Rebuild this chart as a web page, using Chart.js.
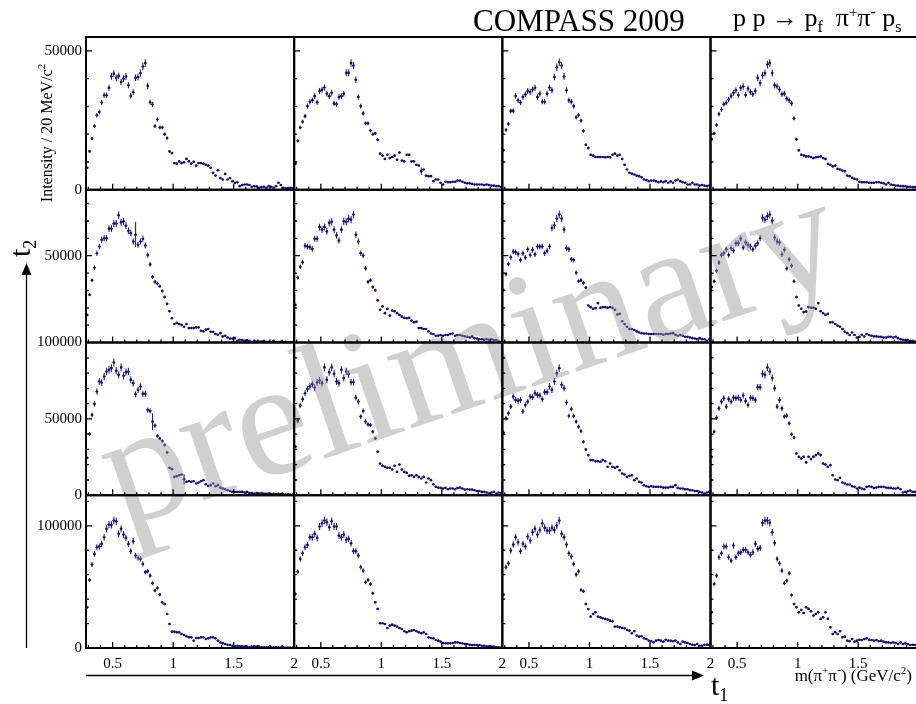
<!DOCTYPE html>
<html lang="en">
<head>
  <meta charset="UTF-8" />
  <title>COMPASS 2009 - m(pi+pi-) in t1 x t2 bins</title>
  <script src="https://cdn.jsdelivr.net/npm/chart.js"></script>
  <style>
    html, body { margin: 0; padding: 0; background: #fff; overflow: hidden; }
    #wrap { position: relative; width: 916px; height: 704px; overflow: hidden; }
    #grafico { position: absolute; left: 0; top: 0; }
  </style>
</head>
<body>
  <div id="wrap"><canvas id="grafico" width="930" height="704"></canvas></div>

<script>
  // m(pi+pi-) histogram binning (GeV/c^2)
  const binLow = 0.28
  const binWidth = 0.02

  // Intensity / 20 MeV/c^2, rows = t2 bins (top to bottom), columns = t1 bins (left to right)
  const r1c1 = [7900,13800,18400,22900,26800,28000,31400,34000,34000,36700,
    40800,41800,40300,41000,38800,40000,40800,37600,33800,35100,
    40300,40600,42000,44400,45600,37400,31500,30700,22900,25300,
    22400,22400,20000,18600,13800,13200,9600,9400,10200,9600,
    9900,11100,10200,9400,10100,8700,9600,9600,9400,9000,
    8700,7900,6100,5100,7000,4200,3700,5700,3700,4200,
    3100,2500,2700,1300,1700,1900,1900,1700,1100,1300,
    1200,700,950,1100,700,1300,1100,700,1300,2500,
    1700,700,500,600,700,500]
  const r1c2 = [9400,17600,22400,24500,26500,30100,31700,32200,33700,31500,
    35600,36000,36800,34600,33700,34900,31100,30800,33400,33700,
    34600,42100,42100,45600,44700,39600,33400,30100,27500,23900,
    23900,21300,20000,20300,18000,13000,12300,11100,12600,11400,
    11800,12300,10800,13400,10500,10200,12600,12600,10200,10200,
    9000,8700,6700,7300,5100,4900,4900,3100,3700,3700,
    2500,1900,2900,2700,2700,2900,2900,3300,3300,2900,
    2500,2300,2300,2100,1900,1900,1900,1900,1700,1900,
    1700,1500,1500,1300,1300,1000]
  const r1c3 = [14200,21500,23700,28400,28400,33800,32200,31400,33400,34300,
    35600,35200,36100,36700,33400,34600,31700,31700,34600,36800,
    35800,40600,44100,45900,44700,40800,35800,32200,31700,30100,
    26100,26900,24900,21200,16200,15000,12600,12300,11800,11800,
    11800,11800,11700,11800,11700,12600,13000,12300,12600,11100,
    9000,7300,6100,5800,5500,5100,4900,4500,3700,3500,
    3100,3300,3300,3100,2700,3000,2700,3100,2500,3000,
    2500,3300,3700,3100,2700,2500,1900,1900,2500,1900,
    1900,1500,1700,1500,1300,1500]
  const r1c4 = [18200,20300,23300,27300,28900,30800,31300,32500,33800,34900,
    35800,34100,36700,37200,34100,36400,35200,34400,35600,40300,
    38400,41200,42000,45100,45600,42000,37600,37200,36100,34400,
    34600,32800,32200,31100,25700,18200,14200,12600,12300,12000,
    12000,11800,11400,11700,11800,12000,11400,11100,9300,9000,
    8400,8700,7500,7300,6900,6700,5100,4900,4300,3900,
    3700,2900,2700,2700,2700,2500,2500,2500,2700,2700,
    2500,2300,1900,2500,1900,1700,1500,1500,1300,1300,
    1300,1100,1100,950,950,700]

  const r2c1 = [15900,27500,35900,43100,51400,55300,59200,60100,60100,65600,
    65600,68500,68500,73300,69300,69800,67300,64400,63000,58200,
    62100,56300,58200,59800,55900,50400,45000,37800,34900,34000,
    32400,29700,26200,22300,18000,14000,10700,11300,10700,10100,
    9100,10700,8300,8300,8300,8700,8700,6800,6400,7400,
    7800,6200,6200,4900,4500,5400,3500,3900,2900,2300,
    2300,2500,1000,1600,1400,1000,1400,1000,400,1000,
    400,600,600,1000,400,400,200,1000,200,200,
    400,200,400,200,200,200]
  const r2c2 = [21700,37400,43600,46200,55700,55300,54900,53900,59800,59800,
    66500,65000,66500,64000,68900,69500,65000,61700,58800,65000,
    69800,69500,71200,70800,73700,62100,58200,51400,50100,42700,
    34900,35900,32000,30100,24300,18800,20800,16900,19400,15500,
    18400,18000,16900,15900,14900,14200,14000,14200,12600,11600,
    12000,8300,8300,7800,7800,6400,5200,4900,3900,3900,
    4300,3900,4300,4300,4900,5200,3900,4300,4300,3900,
    3500,3300,2900,3500,2500,2300,1900,1900,1600,1900,
    1600,1900,1400,1400,600,400]
  const r2c3 = [30100,39400,45200,49100,52400,52000,51000,47500,51400,48900,
    53700,50400,53400,50800,55300,55300,55300,51400,52800,55300,
    66000,67500,71400,73700,71400,65000,54300,53700,47900,47500,
    40200,35300,35900,34300,31600,21300,20400,19400,19800,22700,
    20000,20400,20400,20000,20400,20000,18800,16100,16500,12200,
    10700,9100,7800,7800,7200,6400,5800,5400,5200,5200,
    4900,4900,4900,4900,4900,4900,4500,4900,4900,5200,
    5400,4500,3900,4300,3900,3300,3300,2900,2500,2300,
    1900,2500,1900,1900,1000,1900]
  const r2c4 = [32000,35300,41300,46000,50400,51400,53700,50400,54300,53000,
    57200,57200,59800,54700,57600,56300,55300,53700,55700,57200,
    60100,71800,70800,72800,73700,70200,60500,58200,57600,50800,
    53400,42700,47900,44200,35300,26200,21300,19400,17500,17800,
    20400,20000,20000,19400,22700,18000,16900,15900,16500,11600,
    11600,10700,9700,9100,7800,6200,5400,4300,5800,4300,
    2900,3300,4500,3500,4900,4300,3900,3500,3500,3300,
    3300,2900,2900,3300,3300,2900,3300,2500,1900,1600,
    1400,1400,1000,1000,600,400]

  const r3c1 = [24500,40100,52600,59800,67900,74500,73800,77700,81000,82100,
    83200,86900,81500,78800,83700,78200,80600,81000,75600,73400,
    66100,69000,71200,66400,66400,55800,55200,48200,45600,38800,
    37200,35500,32900,28000,18000,17100,12000,12500,13100,13600,
    10500,8800,9200,8800,9200,7700,8300,9200,9900,7200,
    6100,6600,7700,5900,6600,5000,4400,3900,3300,2800,
    2200,2200,2200,2200,2200,1800,2200,1500,1500,1100,
    1500,1100,1500,1100,900,1100,700,900,700,900,
    700,700,400,700,400,400]
  const r3c2 = [31800,48600,58700,62900,66800,69600,71200,72700,70500,74000,
    75100,73400,83700,75600,80600,83700,79500,74500,73400,82100,
    76700,81000,79300,74000,74000,63900,61300,51500,55200,48200,
    46400,46000,41600,37200,28500,20800,19300,18600,18000,18000,
    16900,19300,15300,20100,16900,15300,14700,12700,13100,12000,
    13100,12000,11000,12000,8300,11000,9900,7200,5500,5000,
    4800,4400,4800,3900,4400,4400,3900,4800,5000,4400,
    3700,3900,3700,3700,3300,2800,2800,2200,2200,1800,
    1100,1800,2200,1100,1800,1500]
  const r3c3 = [41000,50400,53700,58000,64600,62400,61800,62400,54800,59100,
    61300,64600,64200,66800,65700,65300,62900,67500,67500,71200,
    69000,74500,79900,83200,72300,70100,60700,51900,56500,51900,
    48200,44900,42000,35000,30000,26300,23000,23000,22300,22300,
    21900,23000,22300,18600,20800,18600,18000,18600,16400,14200,
    13600,12000,12700,13100,9900,11000,8800,8300,6600,5900,
    5500,5900,5500,5500,5500,5500,5000,5000,5000,5500,
    5500,6600,4800,4400,4400,3900,3900,3300,3300,2800,
    2800,2200,1800,1100,1800,2200]
  const r3c4 = [25200,41600,50800,56900,61300,63500,58000,62900,61300,63900,
    63500,63900,62400,65300,61800,59100,63900,63500,62400,70700,
    70700,79500,78800,83700,81000,76700,70100,58000,62400,56900,
    51500,52100,47100,39900,37700,27400,25200,24100,25200,21500,
    25200,23700,25200,26300,27400,26300,20800,20100,18600,19700,
    13100,10300,9900,11400,8300,7700,7000,7000,5900,5500,
    4400,5000,4400,3900,5500,5900,5500,4800,5000,5500,
    5500,5500,5000,4800,4800,4400,4400,4800,3900,1800,
    2200,2600,3100,2200,2200,1800]

  const r4c1 = [33300,55700,68300,77000,82400,83000,85200,90600,97500,101000,
    100700,104300,103700,93400,97500,92800,90100,85200,79200,87400,
    75600,73700,72900,68800,62000,62800,59200,53000,47000,49100,
    43700,37400,36000,27800,19700,13400,13400,12800,12800,11500,
    10600,9600,8700,8700,6000,8200,8200,8700,8700,7400,
    7900,8700,8700,7900,6000,4600,3800,3300,2700,2500,
    1900,1400,1900,1400,1400,1100,1100,500,1100,1400,
    1100,1100,500,500,500,500,500,500,500,500,
    300,500,300,300,300,300]
  const r4c2 = [44200,62500,72900,77500,82400,84400,90600,90600,93400,90100,
    99400,102100,104300,103000,98800,103700,99400,99400,92000,90600,
    92800,88500,89300,85700,79200,79200,75600,66100,63300,53800,
    55700,52400,44800,37400,31900,20200,20200,19700,16400,18300,
    19100,18300,17500,16400,15600,13700,12800,13700,14200,14700,
    13700,12800,12000,12800,11500,8700,8200,7900,6600,6000,
    5200,4100,3800,3800,3800,4100,4600,4600,4100,3800,
    3300,3300,2700,2500,2500,2500,2500,1900,1900,1400,
    1400,1100,1100,500,500,300]
  const r4c3 = [43700,66100,69300,79700,84600,90600,86500,79200,85200,83000,
    91200,87900,94700,97500,92800,96600,102100,98300,96100,96100,
    98300,96600,100200,104300,93400,90600,84600,77500,74800,68800,
    60100,62800,47500,46400,36000,31900,25700,27800,29200,25700,
    25100,24300,23800,23200,22400,21800,17500,17500,16900,16400,
    16100,14700,14200,12000,13700,10100,9300,9600,7900,7400,
    6000,5500,4600,6000,6600,6000,5200,6800,6000,6000,
    5500,6000,4600,3300,5200,4600,4100,3300,2700,2500,
    3300,1900,1900,2700,2700,2500]
  const r4c4 = [29200,52400,59200,74300,77500,83000,83000,74300,71500,83800,
    74300,77500,78400,80300,80300,78400,76200,78400,85200,81100,
    81900,102400,104300,104300,102400,94700,86000,72900,69300,63300,
    53000,55100,61200,43400,36000,33300,29200,31100,28700,33300,
    32000,30000,26500,27800,29200,23800,25100,29200,23800,16900,
    11500,12800,11500,13700,8700,9300,6000,5500,7400,5200,
    6000,6800,6600,7400,7900,6800,6600,6000,6600,5500,
    6000,5200,4600,4600,4100,4600,4100,3300,4600,3300,
    3800,3300,2500,2700,2500,1900]

  const panels = [r1c1, r1c2, r1c3, r1c4, r2c1, r2c2, r2c3, r2c4,
                  r3c1, r3c2, r3c3, r3c4, r4c1, r4c2, r4c3, r4c4]

  // statistical error, relative, and the few bins with a visibly larger bar
  const relErr = 0.03
  const bigErrors = [
    { panel: 1, bin: 52, err: 1300 },
    { panel: 4, bin: 20, err: 7200 },
    { panel: 8, bin: 27, err: 5500 },
    { panel: 8, bin: 40, err: 3400 }
  ]

  // axes
  const xMin = 0.28, xMax = 2.0
  const xLabels = [[0.5, 1, 1.5, 2], [0.5, 1, 1.5, 2], [0.5, 1, 1.5, 2], [0.5, 1, 1.5]]
  const yMax = [55000, 88000, 100000, 125000]
  const yLabels = [[0, 50000], [50000], [0, 50000, 100000], [0, 100000]]
  const yMinor = [10000, 10000, 10000, 20000]
  const yMajor = [50000, 50000, 50000, 100000]

  const cor = "#101080"
  const fonte = '"Liberation Serif", "Times New Roman", serif'

  // datasets, one per panel
  const dataSets = panels.map(function (valores, p) {
    const linha = Math.floor(p / 4), coluna = p % 4
    return {
      label: "t2 bin " + (linha + 1) + ", t1 bin " + (coluna + 1),
      xAxisID: "x" + coluna,
      yAxisID: "y" + linha,
      data: valores.map(function (v, i) {
        let e = v * relErr
        bigErrors.forEach(function (b) { if (b.panel == p && b.bin == i) e = b.err })
        return { x: binLow + binWidth * (i + 0.5), y: v, err: e }
      }),
      pointRadius: 1.3,
      pointBackgroundColor: cor,
      pointBorderWidth: 0,
      showLine: false
    }
  })

  // x scales stack left to right; left scales stack bottom to top, so rows go in reverse
  const scales = {}
  for (let c = 0; c < 4; c++) {
    scales["x" + c] = {
      type: "linear", position: "bottom", stack: "t1", stackWeight: 1,
      min: xMin, max: xMax,
      grid: { display: false, drawTicks: false }, border: { display: false },
      ticks: {
        autoSkip: false, maxRotation: 0, padding: 7, color: "#000",
        font: { family: fonte, size: 15 },
        callback: function (v) { return String(v) }
      },
      afterBuildTicks: function (s) { s.ticks = xLabels[c].map(function (v) { return { value: v } }) },
      afterFit: function (s) { s.height = 56 }
    }
  }
  for (let r = 3; r >= 0; r--) {
    scales["y" + r] = {
      type: "linear", position: "left", stack: "t2", stackWeight: 1,
      min: 0, max: yMax[r],
      grid: { display: false, drawTicks: false }, border: { display: false },
      ticks: {
        autoSkip: false, padding: 4, color: "#000",
        font: { family: fonte, size: 15 },
        callback: function (v) { return String(v) }
      },
      afterBuildTicks: function (s) { s.ticks = yLabels[r].map(function (v) { return { value: v } }) },
      afterFit: function (s) { s.width = 86 }
    }
  }

  function textoComposto(ctx, x, y, partes) {
    partes.forEach(function (p) {
      ctx.font = p.size + "px " + fonte
      ctx.fillText(p.t, x, y + (p.dy || 0))
      x += ctx.measureText(p.t).width
    })
    return x
  }
  function larguraComposta(ctx, partes) {
    let w = 0
    partes.forEach(function (p) { ctx.font = p.size + "px " + fonte; w += ctx.measureText(p.t).width })
    return w
  }

  const desenhos = {
    id: "desenhos",
    afterDatasetsDraw: function (chart) {
      const ctx = chart.ctx
      // error bars
      chart.data.datasets.forEach(function (ds, k) {
        const meta = chart.getDatasetMeta(k)
        const xs = meta.xScale, ys = meta.yScale
        ctx.save()
        ctx.beginPath()
        ctx.rect(xs.left, ys.top, xs.right - xs.left, ys.bottom - ys.top)
        ctx.clip()
        ctx.strokeStyle = cor
        ctx.lineWidth = 1
        ctx.beginPath()
        ds.data.forEach(function (pt) {
          const px = xs.getPixelForValue(pt.x), py = ys.getPixelForValue(pt.y)
          ctx.moveTo(xs.getPixelForValue(pt.x - binWidth / 2), py)
          ctx.lineTo(xs.getPixelForValue(pt.x + binWidth / 2), py)
          ctx.moveTo(px, ys.getPixelForValue(pt.y + pt.err))
          ctx.lineTo(px, ys.getPixelForValue(pt.y - pt.err))
        })
        ctx.stroke()
        ctx.restore()
      })
      // watermark
      ctx.save()
      ctx.translate(472, 362)
      ctx.rotate(-19 * Math.PI / 180)
      ctx.font = "165px " + fonte
      ctx.fillStyle = "rgba(150,150,150,0.45)"
      ctx.textAlign = "center"
      ctx.textBaseline = "middle"
      ctx.fillText("preliminary", 0, 0)
      ctx.restore()
    },
    afterDraw: function (chart) {
      const ctx = chart.ctx
      ctx.save()
      // frames and inner ticks
      for (let r = 0; r < 4; r++) {
        for (let c = 0; c < 4; c++) {
          const xs = chart.scales["x" + c], ys = chart.scales["y" + r]
          const L = xs.left, R = xs.right, T = ys.top, B = ys.bottom
          ctx.strokeStyle = "#000"
          ctx.lineWidth = 1.3
          ctx.beginPath()
          for (let k = 3; k <= 20; k++) {
            const px = xs.getPixelForValue(k / 10)
            const len = (k % 5 == 0) ? 6 : 3
            ctx.moveTo(px, B); ctx.lineTo(px, B - len)
          }
          for (let v = yMinor[r]; v < yMax[r]; v += yMinor[r]) {
            const py = ys.getPixelForValue(v)
            const len = (v % yMajor[r] == 0) ? 6 : 3
            ctx.moveTo(L, py); ctx.lineTo(L + len, py)
          }
          ctx.stroke()
          ctx.lineWidth = 2
          ctx.strokeRect(L, T, R - L, B - T)
        }
      }

      ctx.fillStyle = "#000"
      ctx.strokeStyle = "#000"
      ctx.textBaseline = "alphabetic"
      ctx.textAlign = "left"

      // title
      ctx.font = "31px " + fonte
      ctx.fillText("COMPASS 2009", 473, 31)
      textoComposto(ctx, 733, 26, [
        { t: "p p \u2192 p", size: 26 }, { t: "f", size: 16, dy: 6 },
        { t: "  \u03c0", size: 26 }, { t: "+", size: 15, dy: -9 },
        { t: "\u03c0", size: 26 }, { t: "-", size: 16, dy: -9 },
        { t: " p", size: 26 }, { t: "s", size: 16, dy: 6 }
      ])

      // x axis title
      const tituloX = [
        { t: "m(\u03c0", size: 17 }, { t: "+", size: 11, dy: -7 },
        { t: "\u03c0", size: 17 }, { t: "-", size: 12, dy: -7 },
        { t: ") (GeV/c", size: 17 }, { t: "2", size: 11, dy: -7 }, { t: ")", size: 17 }
      ]
      textoComposto(ctx, 912 - larguraComposta(ctx, tituloX), 681, tituloX)

      // y axis title
      ctx.save()
      ctx.translate(52, 133)
      ctx.rotate(-Math.PI / 2)
      const tituloY = [
        { t: "Intensity / 20 MeV/c", size: 16 }, { t: "2", size: 11, dy: -7 }
      ]
      textoComposto(ctx, -larguraComposta(ctx, tituloY) / 2, 0, tituloY)
      ctx.restore()

      // t1 / t2 arrows
      ctx.lineWidth = 1.3
      ctx.beginPath()
      ctx.moveTo(86, 675.5); ctx.lineTo(694, 675.5)
      ctx.moveTo(26.5, 648); ctx.lineTo(26.5, 273)
      ctx.stroke()
      ctx.beginPath()
      ctx.moveTo(704, 675.5); ctx.lineTo(692, 670.5); ctx.lineTo(692, 680.5); ctx.closePath()
      ctx.moveTo(26.5, 263); ctx.lineTo(21.5, 275); ctx.lineTo(31.5, 275); ctx.closePath()
      ctx.fill()

      textoComposto(ctx, 711, 695, [{ t: "t", size: 30 }, { t: "1", size: 18, dy: 6 }])
      ctx.save()
      ctx.translate(30, 257)
      ctx.rotate(-Math.PI / 2)
      textoComposto(ctx, 0, 0, [{ t: "t", size: 30 }, { t: "2", size: 18, dy: 6 }])
      ctx.restore()

      ctx.restore()
    }
  }

  const grafico = new Chart(document.getElementById("grafico").getContext("2d"), {
    type: "scatter",
    data: { datasets: dataSets },
    options: {
      responsive: false,
      animation: false,
      events: [],
      layout: { padding: { top: 37, right: 11, bottom: 0, left: 0 } },
      plugins: { legend: { display: false }, tooltip: { enabled: false } },
      scales: scales
    },
    plugins: [desenhos]
  })
</script>
</body>
</html>
